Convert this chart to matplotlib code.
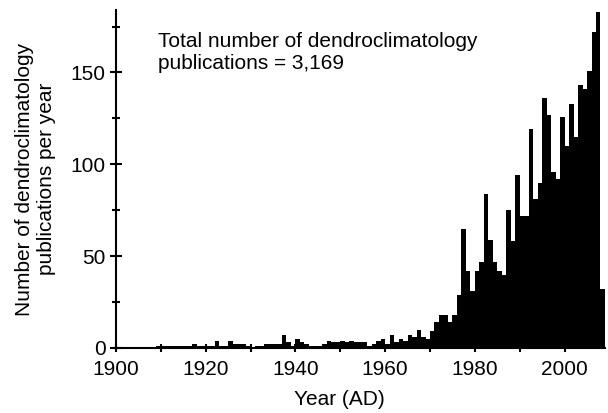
import numpy as np
import matplotlib
matplotlib.use("Agg")
import matplotlib.pyplot as plt
from matplotlib.ticker import MultipleLocator

plt.rcParams['font.family'] = ['Liberation Sans', 'DejaVu Sans']

# publications per year, 1909-2008
years = list(range(1909, 2009))
counts = [
    1, 1, 1, 1, 1, 1, 1, 1, 2, 1, 1, 1, 1,           # 1909-1921
    4, 1, 1, 4, 2, 2, 2, 1, 0,                       # 1922-1930
    1, 1, 2, 2, 2, 2, 7, 3, 1, 5,                    # 1931-1940
    3, 2, 1, 1, 1, 2, 4, 3, 3, 4,                    # 1941-1950
    3, 4, 3, 3, 3, 1, 2, 4, 5, 2,                    # 1951-1960
    7, 3, 5, 4, 7, 6, 10, 6, 5, 9,                   # 1961-1970
    14, 18, 18, 14, 18, 29, 65, 42, 31, 42,          # 1971-1980
    47, 84, 59, 47, 42, 40, 75, 58, 94, 72,          # 1981-1990
    72, 119, 81, 90, 136, 127, 96, 92, 126, 110,     # 1991-2000
    133, 115, 143, 141, 151, 172, 183, 32,           # 2001-2008
]
note = "Total number of dendroclimatology\npublications = 3,169"

fig = plt.figure(figsize=(6.08, 4.13), dpi=100)
ax = fig.add_axes([0.1908, 0.1574, 0.8042, 0.8184])

edges = years + [years[-1] + 1]
ax.stairs(counts, edges, fill=True, color="black", linewidth=0)

ax.set_xlim(1900, 2009)
ax.set_ylim(0, 184)

for side in ("top", "right"):
    ax.spines[side].set_visible(False)
for side in ("left", "bottom"):
    ax.spines[side].set_linewidth(1.5)

ax.xaxis.set_major_locator(MultipleLocator(20))
ax.xaxis.set_minor_locator(MultipleLocator(10))
ax.yaxis.set_major_locator(MultipleLocator(50))
ax.yaxis.set_minor_locator(MultipleLocator(25))
ax.tick_params(axis="both", which="both", direction="inout", width=1.5, labelsize=15)
ax.tick_params(axis="y", which="major", length=9)
ax.tick_params(axis="y", which="minor", length=6)
ax.tick_params(axis="x", which="both", length=6)
ax.tick_params(axis="x", pad=6)
ax.tick_params(axis="y", pad=3)

ax.set_xlabel("Year (AD)", fontsize=15)
ax.xaxis.set_label_coords(0.456, -0.125)
ax.set_ylabel("Number of dendroclimatology\npublications per year", fontsize=15, linespacing=1.2)
ax.yaxis.set_label_coords(-0.122, 0.5)

ax.text(1909.4, 172, note, fontsize=15, va="top", ha="left", linespacing=1.2)

fig.savefig("out.png", dpi=100)
